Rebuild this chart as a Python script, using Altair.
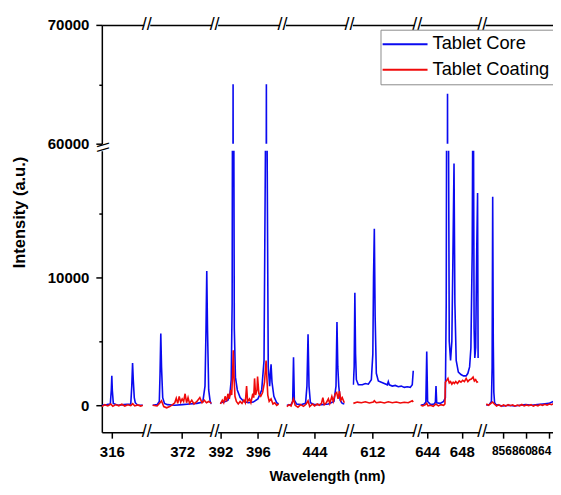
import altair as alt
import pandas as pd

CORE = "Tablet Core"
COAT = "Tablet Coating"
BLUE = "#0a0af0"
RED = "#f00a0a"
FONT = "Liberation Sans"

# ---- data: (wavelength nm, intensity a.u.) ----
core_s1 = [(315.0, 0), (315.5, 50), (315.85, 100), (315.95, 1200), (316.0, 2300), (316.05, 1200), (316.15, 150),
           (316.6, 0), (317.2, 50), (317.9, 100), (318.0, 1500), (318.08, 3300), (318.15, 2000), (318.25, 600),
           (318.35, 200), (318.6, 0), (319.1, 0)]
coat_s1 = [(315.0, -100), (315.3, 50), (315.6, -50), (315.9, 100), (316.1, -80), (316.4, 60), (316.7, -40),
           (317.0, 80), (317.3, -60), (317.6, 40), (317.9, -30), (318.1, 120), (318.3, -50), (318.6, 30),
           (318.9, -60), (319.1, 0)]

core_s2 = [(370.0, 0), (370.3, 50), (370.45, 300), (370.5, 2500), (370.55, 5600), (370.6, 3000), (370.68, 600),
           (370.8, 150), (371.0, 50), (371.5, 0), (372.0, 50), (372.5, 100), (373.0, 150), (373.4, 250),
           (373.55, 1500), (373.62, 6000), (373.67, 10500), (373.72, 6000), (373.8, 1200), (373.9, 300), (374.0, 100)]
coat_s2 = [(370.0, 0), (370.3, -50), (370.5, 200), (370.6, 350), (370.75, -100), (370.95, -200), (371.15, -100),
           (371.35, 50), (371.5, 200), (371.6, 550), (371.7, 150), (371.8, 700), (371.9, 250), (372.0, 500),
           (372.1, 300), (372.2, 900), (372.3, 200), (372.4, 600), (372.5, 150), (372.65, 400), (372.8, 100),
           (373.0, 300), (373.2, 600), (373.35, 200), (373.5, 400), (373.65, 200), (373.8, 300), (374.0, 150)]

core_s3 = [(392.0, 200), (392.4, 250), (392.8, 400), (393.0, 800), (393.15, 2000), (393.25, 8000), (393.3, 30000),
           (393.35, 65000), (393.4, 30000), (393.48, 6000), (393.6, 2200), (393.8, 1200), (394.1, 600), (394.5, 300),
           (395.0, 200), (395.5, 250), (396.0, 500), (396.4, 1200), (396.65, 3500), (396.8, 20000), (396.9, 65000),
           (396.98, 20000), (397.1, 3000), (397.25, 1500), (397.4, 3200), (397.5, 1800), (397.7, 700), (398.0, 200),
           (398.2, 100)]
coat_s3 = [(392.0, 100), (392.2, 400), (392.35, 200), (392.5, 700), (392.65, 300), (392.8, 900), (392.95, 500),
           (393.1, 1200), (393.2, 800), (393.3, 2500), (393.37, 4300), (393.45, 2200), (393.55, 700), (393.7, 300),
           (393.9, 100), (394.1, 300), (394.3, 150), (394.5, 400), (394.65, 200), (394.79, 1500), (394.9, 300),
           (395.1, 500), (395.25, 200), (395.45, 900), (395.55, 600), (395.64, 2100), (395.75, 800), (395.9, 1200),
           (395.96, 2250), (396.1, 900), (396.3, 700), (396.5, 1000), (396.7, 1800), (396.87, 3500), (396.95, 2200),
           (397.05, 800), (397.2, 300), (397.4, 500), (397.6, 100), (397.8, 200), (398.0, 0), (398.2, 100)]

core_s4 = [(442.0, 0), (442.3, 50), (442.42, 300), (442.48, 3750), (442.54, 400), (442.7, 100), (443.0, 50),
           (443.35, 150), (443.45, 1500), (443.53, 5550), (443.6, 1500), (443.7, 200), (444.0, 50), (444.5, 50),
           (445.0, 100), (445.4, 300), (445.55, 1500), (445.62, 6500), (445.68, 3000), (445.75, 1500), (445.85, 400),
           (446.0, 150), (446.15, 100)]
coat_s4 = [(442.0, -100), (442.15, 50), (442.3, -50), (442.48, 500), (442.6, 0), (442.8, -150), (443.0, 50),
           (443.2, -80), (443.4, 100), (443.53, 350), (443.65, -100), (443.85, 100), (444.0, -50), (444.2, 100),
           (444.35, 0), (444.5, 150), (444.6, 600), (444.7, 50), (444.85, 200), (445.0, 500), (445.1, 150),
           (445.25, 700), (445.35, 300), (445.5, 900), (445.6, 1000), (445.7, 500), (445.8, 1100), (445.9, 400),
           (446.0, 600), (446.15, 200)]

core_s5 = [(610.1, 1600), (610.18, 3000), (610.25, 8800), (610.32, 4000), (610.4, 2000), (610.6, 1600), (611.0, 1600),
           (611.3, 1700), (611.6, 1650), (611.9, 2000), (612.05, 4000), (612.12, 10000), (612.2, 13800),
           (612.28, 7000), (612.4, 2500), (612.6, 1900), (612.9, 1800), (613.2, 1700), (613.5, 1600), (613.6, 1850),
           (613.7, 1600), (614.0, 1500), (614.3, 1550), (614.6, 1450), (614.9, 1500), (615.2, 1400), (615.5, 1450),
           (615.8, 1400), (616.0, 1600), (616.1, 2700)]
coat_s5 = [(610.1, 150), (610.5, 250), (610.9, 200), (611.3, 280), (611.7, 180), (612.1, 250), (612.2, 350),
           (612.4, 200), (612.8, 250), (613.2, 180), (613.6, 270), (614.0, 200), (614.4, 260), (614.8, 180),
           (615.2, 240), (615.6, 200), (616.0, 350), (616.1, 250)]

core_s6 = [(643.25, 0), (643.6, 50), (643.85, 250), (643.95, 4200), (644.05, 300), (644.4, 50), (644.8, 100),
           (644.95, 250), (645.02, 1500), (645.1, 200), (645.5, 150), (645.9, 300), (646.1, 600), (646.2, 8000),
           (646.3, 40000), (646.35, 64200), (646.42, 30000), (646.55, 5000), (646.7, 3500), (646.85, 5000),
           (646.98, 12000), (647.1, 18900), (647.2, 8000), (647.35, 3500), (647.6, 2600), (647.9, 2400),
           (648.2, 2300), (648.5, 2300), (648.7, 2500), (648.9, 3000), (649.05, 4500), (649.2, 12000),
           (649.31, 30000), (649.42, 6000), (649.5, 3700), (649.6, 4500), (649.72, 12000), (649.82, 16600),
           (649.88, 3700)]
coat_s6 = [(643.25, 0), (643.5, -50), (643.8, 50), (643.95, 150), (644.1, -50), (644.4, 0), (644.7, -80),
           (645.0, 100), (645.3, -50), (645.6, 50), (645.9, 0), (646.05, 100), (646.1, 1800), (646.25, 1950),
           (646.4, 2100), (646.55, 1750), (646.7, 1850), (646.85, 1650), (647.0, 1800), (647.15, 1700),
           (647.3, 1850), (647.5, 1700), (647.7, 1900), (647.9, 1800), (648.1, 1950), (648.3, 1850), (648.5, 2100),
           (648.7, 1850), (648.9, 2000), (649.1, 2050), (649.3, 2200), (649.45, 1900), (649.6, 2000),
           (649.75, 1800), (649.88, 1850)]

core_s7 = [(853.1, 0), (853.6, 50), (854.0, 300), (854.12, 3000), (854.22, 16300), (854.32, 5000), (854.42, 1000),
           (854.55, 200), (854.8, 50), (855.3, 0), (856.0, -50), (857.0, 0), (858.0, -50), (859.0, 0), (860.0, 50),
           (861.0, 0), (862.0, 50), (863.0, 100), (864.0, 150), (864.8, 300), (865.3, 600), (865.55, 1200),
           (865.8, 3000), (866.0, 6000)]
coat_s7 = [(853.1, 100), (853.5, 0), (853.9, 150), (854.2, 250), (854.5, 100), (854.9, -50), (855.3, 50),
           (855.7, -80), (856.1, 30), (856.5, -60), (856.9, 50), (857.3, -30), (857.7, 40), (858.1, -70),
           (858.5, 20), (858.9, -40), (859.3, 60), (859.7, -50), (860.1, 30), (860.5, -30), (860.9, 50),
           (861.3, -60), (861.7, 20), (862.1, -40), (862.5, 60), (862.9, 0), (863.3, 80), (863.7, 20),
           (864.1, 100), (864.5, 50), (864.9, 150), (865.3, 100), (865.7, 200), (865.95, 150)]

# ---- broken-axis segments (axis ranges and tick values) ----
seg_domains = [(315.0, 319.2), (369.8, 374.0), (391.7, 398.3), (441.9, 446.3), (610.0, 616.2), (643.2, 650.0),
               (852.9, 865.95)]
seg_ticks = [[316], [372], [392, 396], [444], [612], [644, 648], [856, 860, 864]]
seg_widths = [42, 62, 62, 61, 62, 59, 75]
seg_core = [core_s1, core_s2, core_s3, core_s4, core_s5, core_s6, core_s7]
seg_coat = [coat_s1, coat_s2, coat_s3, coat_s4, coat_s5, coat_s6, coat_s7]

y_upper = (60000, 70000)
y_lower = (-2100, 19900)
h_upper = 119
h_lower = 282

color = alt.Color("series:N", scale=alt.Scale(domain=[CORE, COAT], range=[BLUE, RED]), legend=None)

brk = pd.DataFrame({"t": ["//"]})


def frame(pairs, name):
    return pd.DataFrame({"wl": [p[0] for p in pairs], "v": [p[1] for p in pairs], "series": name})


def legend_layers():
    """Boxed legend drawn inside the last upper panel (origin at its top-left)."""
    box = alt.Chart(brk).mark_rect(fill="white", stroke="#8c8c8c", strokeWidth=1).encode(
        x=alt.value(-104.3), x2=alt.value(90), y=alt.value(5.3), y2=alt.value(60))
    out = [box]
    for name, col, yy in ((CORE, BLUE, 19.5), (COAT, RED, 45)):
        d = pd.DataFrame({"series": [name]})
        out.append(alt.Chart(d).mark_rule(strokeWidth=2, color=col).encode(
            x=alt.value(-102.7), x2=alt.value(-57.7), y=alt.value(yy)))
        out.append(alt.Chart(d).mark_text(font=FONT, fontSize=18.3, color="black", align="left",
                                          baseline="middle").encode(
            x=alt.value(-52.7), y=alt.value(yy), text="series:N"))
    return out


def panel(k, row):
    lo, hi = seg_domains[k]
    w = seg_widths[k]
    xscale = alt.Scale(domain=[lo, hi], nice=False, zero=False)
    if row == 0:
        ydom, h, yvals = y_upper, h_upper, [60000, 65000, 70000]
        xaxis = alt.Axis(orient="top", labels=False, ticks=False, title=None, grid=False,
                         domainColor="black", domainWidth=1.5)
    else:
        ydom, h, yvals = y_lower, h_lower, [0, 5000, 10000, 15000]
        xkw = dict(orient="bottom", values=seg_ticks[k], format="d", labelFont=FONT, labelFontWeight="bold",
                   labelFontSize=15, labelColor="black", labelOverlap=False, labelFlush=False, labelPadding=6,
                   tickSize=6, tickWidth=1.5, tickColor="black", domainColor="black", domainWidth=1.5, grid=False)
        if k == 6:
            # crowded last segment: smaller labels nudged left so they stay apart and on the page
            xkw.update(labelFontSize=12, labelPadding=7,
                       labelOffset={"condition": [{"test": "datum.value == 864", "value": -8},
                                                  {"test": "datum.value == 860", "value": -4.5}],
                                    "value": -1.5})
        if k == 3:
            xkw.update(title="Wavelength (nm)", titleFont=FONT, titleFontWeight="bold", titleFontSize=14.5,
                       titleColor="black", titleX=41.5, titleY=48, titleBaseline="alphabetic", titleAlign="center")
        else:
            xkw.update(title=None)
        xaxis = alt.Axis(**xkw)
    yscale = alt.Scale(domain=list(ydom), nice=False, zero=False)
    if k == 0:
        ykw = dict(values=yvals, format="d", labelExpr="datum.value % 10000 == 0 ? datum.label : ''",
                   labelFont=FONT, labelFontWeight="bold", labelFontSize=15, labelColor="black", labelFlush=False,
                   labelOverlap=False, labelPadding=7,
                   tickSize={"condition": {"test": "datum.value % 10000 != 0", "value": 3}, "value": 6},
                   tickWidth=1.5, tickColor="black", domainColor="black", domainWidth=1.5, grid=False)
        if row == 1:
            ykw.update(title="Intensity (a.u.)", titleFont=FONT, titleFontWeight="bold", titleFontSize=16.5,
                       titleColor="black", titleX=-82.5, titleY=61.5, titleAngle=270, titleAlign="center",
                       titleBaseline="middle")
        else:
            ykw.update(title=None)
        yaxis = alt.Axis(**ykw)
    else:
        yaxis = None

    layers = []
    for pairs, name in ((seg_core[k], CORE), (seg_coat[k], COAT)):
        layers.append(
            alt.Chart(frame(pairs, name)).mark_line(clip=True, strokeWidth=1.6).encode(
                x=alt.X("wl:Q", scale=xscale, axis=xaxis),
                y=alt.Y("v:Q", scale=yscale, axis=yaxis),
                color=color,
            )
        )
    if k > 0:
        layers.append(
            alt.Chart(brk).mark_text(text="//", font=FONT, fontSize=18, color="black", align="center",
                                     baseline="middle").encode(x=alt.value(-3), y=alt.value(0 if row == 0 else h))
        )
    elif row == 1:
        layers.append(
            alt.Chart(brk).mark_text(text="\\\\", font=FONT, fontSize=17, color="black", align="center",
                                     baseline="middle", angle=90).encode(x=alt.value(0), y=alt.value(-3.5))
        )
    if row == 0 and k == 6:
        layers.extend(legend_layers())
    return alt.layer(*layers).properties(width=w, height=h)


panels = [panel(k, r) for r in (0, 1) for k in range(7)]

chart = alt.concat(*panels, columns=7, spacing={"row": 7, "column": 6}, bounds="flush").resolve_scale(
    x="independent", y="independent"
).configure_view(stroke=None).properties(padding={"left": 3, "top": 7.5, "right": -23, "bottom": 0})

chart.save("out.html", embed_options={"renderer": "svg", "actions": False})
